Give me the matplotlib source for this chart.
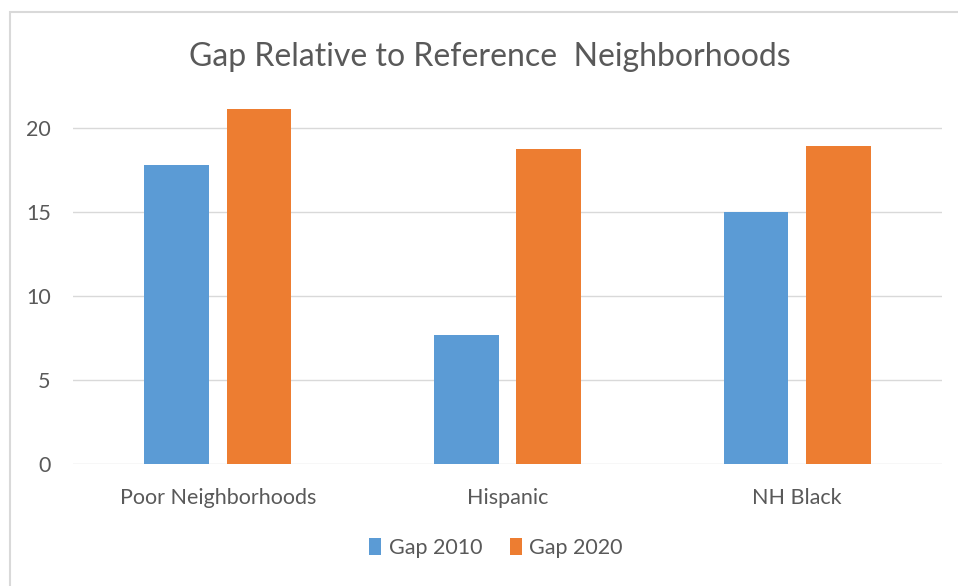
import matplotlib
matplotlib.use("Agg")
import matplotlib.pyplot as plt
import numpy as np
from matplotlib.patches import Rectangle

categories = ["Poor Neighborhoods", "Hispanic", "NH Black"]
series_names = ["Gap 2010", "Gap 2020"]
gap_2010 = [17.75, 7.7, 15.0]
gap_2020 = [21.1, 18.75, 18.9]
yticks = [0, 5, 10, 15, 20]

colors = ["#5B9BD5", "#ED7D31"]
text_color = "#595959"
grid_color = "#D9D9D9"

plt.rcParams['font.family'] = ['Lato', 'DejaVu Sans']

fig = plt.figure(figsize=(9.58, 5.86), dpi=100)
ax = fig.add_axes([73/958, 1-464/586, (942-73)/958, (464-94)/586])

x = np.arange(len(categories))
w = 0.224
off = 0.142
ax.bar(x - off, gap_2010, width=w, color=colors[0], label=series_names[0], zorder=3)
ax.bar(x + off, gap_2020, width=w, color=colors[1], label=series_names[1], zorder=3)

ax.set_xlim(-0.5, len(categories) - 0.5)
ax.set_ylim(0, 22)
ax.set_yticks(yticks)
ax.set_yticklabels([str(t) for t in yticks])
ax.set_xticks(x)
ax.set_xticklabels(categories)
ax.tick_params(axis='both', length=0, colors=text_color, labelsize=15.5)
ax.tick_params(axis='x', pad=17.5)
ax.tick_params(axis='y', pad=16)
for s in ax.spines.values():
    s.set_visible(False)
ax.grid(axis='y', color=grid_color, linewidth=1, zorder=0)
ax.set_axisbelow(True)

fig.text(490/958, 1-57/586, "Gap Relative to Reference  Neighborhoods",
         ha='center', va='center', fontsize=23, color=text_color)

leg = fig.legend(loc='center', bbox_to_anchor=(496/958, 1-548/586), ncol=2,
                 frameon=False, fontsize=15.5, handlelength=0.55, handleheight=0.8,
                 columnspacing=1.3, handletextpad=0.35, labelcolor=text_color)

fig.patches.append(Rectangle((10/958, -0.01), 1.0, 1 - 12/586 + 0.01,
                             transform=fig.transFigure, fill=False,
                             edgecolor="#D9D9D9", linewidth=1.5))

fig.savefig("out.png", dpi=100)
